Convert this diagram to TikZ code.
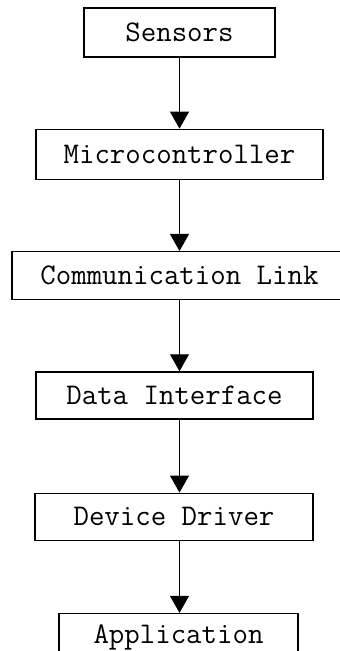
\documentclass[tikz,border=0pt]{standalone}
\usetikzlibrary{arrows.meta, positioning}

\begin{document}
\begin{tikzpicture}[x=1pt, y=1pt,
    node distance=71pt,
    block/.style={rectangle, draw, line width=1.3pt, inner sep=0pt, align=center,
        font=\fontsize{30}{34}\selectfont\ttfamily},
    arrow/.style={-{Triangle[length=17pt, width=19pt]}, line width=1pt}
]
\useasboundingbox (0,0) rectangle (340,-651);

% Sensors
\node[block, minimum width=191pt, minimum height=49pt] (sensors) at (179.5,-32.5) {Sensors};

% Microcontroller
\node[block, minimum width=287pt, minimum height=50pt, below=of sensors] (mcu) {Microcontroller};

% Communication link
\node[block, minimum width=335pt, minimum height=48pt, below=of mcu] (link) {Communication Link};

% Data interface
\node[block, minimum width=277pt, minimum height=47pt, below=71pt of link, xshift=-5pt] (iface) {Data Interface};

% Device driver
\node[block, minimum width=278pt, minimum height=47pt, below=73pt of iface, xshift=-0.5pt] (driver) {Device Driver};

% Application
\node[block, minimum width=239pt, minimum height=47pt, below=72pt of driver, xshift=4.5pt] (app) {Application};

% Arrows
\draw[arrow] (sensors) -- (mcu);
\draw[arrow] (mcu) -- (link);
\draw[arrow] (link.south) -- (link.south |- iface.north);
\draw[arrow] (link.south |- iface.south) -- (link.south |- driver.north);
\draw[arrow] (link.south |- driver.south) -- (link.south |- app.north);

\end{tikzpicture}
\end{document}
